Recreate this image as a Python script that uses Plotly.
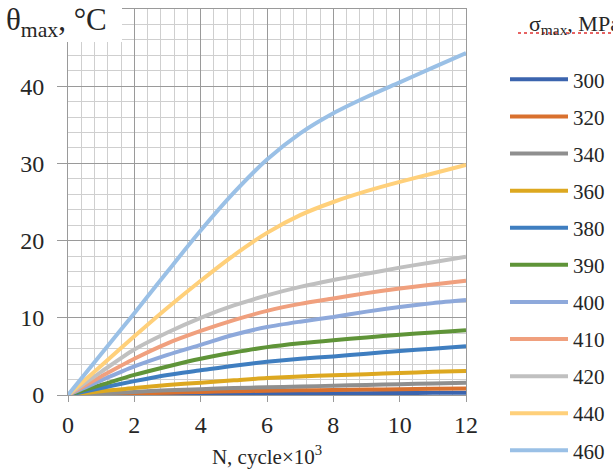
import plotly.graph_objects as go

N = [0, 1, 2, 3, 4, 5, 6, 7, 8, 9, 10, 11, 12]
stress_labels = ["300", "320", "340", "360", "380", "390", "400", "410", "420", "440", "460"]
theta_300 = [0, 0.05, 0.08, 0.1, 0.12, 0.15, 0.17, 0.2, 0.22, 0.24, 0.26, 0.28, 0.3]
theta_320 = [0, 0.1, 0.2, 0.3, 0.4, 0.5, 0.55, 0.6, 0.65, 0.7, 0.75, 0.8, 0.85]
theta_340 = [0, 0.2, 0.4, 0.6, 0.75, 0.9, 1.0, 1.1, 1.2, 1.3, 1.4, 1.5, 1.6]
theta_360 = [0, 0.5, 0.9, 1.3, 1.6, 1.9, 2.2, 2.4, 2.55, 2.7, 2.85, 3.0, 3.1]
theta_380 = [0, 0.9, 1.8, 2.6, 3.2, 3.8, 4.3, 4.7, 5.0, 5.35, 5.7, 6.0, 6.3]
theta_390 = [0, 1.3, 2.6, 3.7, 4.7, 5.5, 6.2, 6.7, 7.1, 7.45, 7.8, 8.1, 8.4]
theta_400 = [0, 1.9, 3.7, 5.2, 6.5, 7.8, 8.8, 9.5, 10.1, 10.8, 11.4, 11.9, 12.3]
theta_410 = [0, 2.4, 4.7, 6.7, 8.3, 9.7, 10.9, 11.8, 12.5, 13.2, 13.8, 14.3, 14.8]
theta_420 = [0, 3.0, 5.9, 8.1, 10.0, 11.6, 12.9, 14.0, 14.9, 15.7, 16.5, 17.2, 17.9]
theta_440 = [0, 3.8, 7.6, 11.3, 14.8, 18.1, 21.0, 23.3, 25.0, 26.4, 27.6, 28.7, 29.8]
theta_460 = [0, 5.3, 10.6, 16.0, 21.3, 26.2, 30.5, 33.9, 36.5, 38.6, 40.5, 42.4, 44.3]
series = [theta_300, theta_320, theta_340, theta_360, theta_380, theta_390,
          theta_400, theta_410, theta_420, theta_440, theta_460]
colors = ["#3B64AE", "#D9712E", "#8F8F8F", "#DDA820", "#3F7EC0", "#5F9438",
          "#8EA9DB", "#F0A07E", "#C0C0C0", "#FFD07A", "#9AC0E6"]
legend_title = "&nbsp;&nbsp;&nbsp;&nbsp;σ<sub>max</sub>, MPa<br> "

SERIF = "Liberation Serif, Times New Roman, serif"
fig = go.Figure()
for lab, ys, c in zip(stress_labels, series, colors):
    fig.add_trace(go.Scatter(x=N, y=ys, mode="lines", name=lab,
                             legendgroup=lab,
                             line=dict(color=c, width=4, shape="spline", smoothing=0.8)))

W, H = 613, 475
L, R, T, B = 68, 147, 9, 80
pw, ph = W - L - R, H - T - B

def px(xp):
    return (xp - L) / pw

def py(yp):
    return (H - B - yp) / ph

fig.update_layout(
    width=W, height=H,
    margin=dict(l=L, r=R, t=T, b=B, autoexpand=False),
    plot_bgcolor="white", paper_bgcolor="white",
    font=dict(family=SERIF, size=21, color="#262626"),
    showlegend=True,
    legend=dict(xref="container", yref="container",
                x=505 / W, y=1 - 2 / H, xanchor="left", yanchor="top",
                title=dict(text=legend_title, side="top",
                           font=dict(family=SERIF, size=22, color="#262626")),
                font=dict(family=SERIF, size=21, color="#262626"),
                tracegroupgap=6.8, itemwidth=58, maxheight=470,
                bgcolor="rgba(0,0,0,0)"),
    xaxis=dict(range=[0, 12], dtick=2, tick0=0,
               showgrid=True, gridcolor="#9A9A9A", gridwidth=1,
               minor=dict(dtick=0.4, showgrid=True, gridcolor="#CFCFCF", gridwidth=1),
               showline=True, linecolor="#9A9A9A", linewidth=1, mirror=True,
               ticks="outside", ticklen=6, tickcolor="#9A9A9A",
               zeroline=False, ticklabelstandoff=2,
               title=dict(text="N, cycle×10<sup>3</sup>", font=dict(family=SERIF, size=21), standoff=12),
               tickfont=dict(family=SERIF, size=24)),
    yaxis=dict(range=[0, 50], dtick=10, tick0=0,
               showgrid=True, gridcolor="#9A9A9A", gridwidth=1,
               minor=dict(dtick=2, showgrid=True, gridcolor="#CFCFCF", gridwidth=1),
               showline=True, linecolor="#9A9A9A", linewidth=1, mirror=True,
               ticks="outside", ticklen=10, tickcolor="#9A9A9A",
               zeroline=False, ticklabelstandoff=8,
               tickfont=dict(family=SERIF, size=24)),
    shapes=[dict(type="rect", xref="paper", yref="paper",
                 x0=px(0), x1=px(122), y0=py(42), y1=py(0),
                 fillcolor="white", line=dict(width=0), layer="above"),
            dict(type="line", xref="paper", yref="paper",
                 x0=px(518), x1=px(560), y0=py(33), y1=py(33),
                 line=dict(color="#E03030", width=1.5, dash="dot")),
            dict(type="line", xref="paper", yref="paper",
                 x0=px(566), x1=px(613), y0=py(33), y1=py(33),
                 line=dict(color="#E03030", width=1.5, dash="dot"))],
    annotations=[
        dict(text="θ<sub>max</sub>, °C", xref="paper", yref="paper",
             x=px(4), y=py(22), xanchor="left", yanchor="middle",
             showarrow=False, font=dict(family=SERIF, size=31, color="#262626")),
    ],
)

fig.write_html("out.html")
